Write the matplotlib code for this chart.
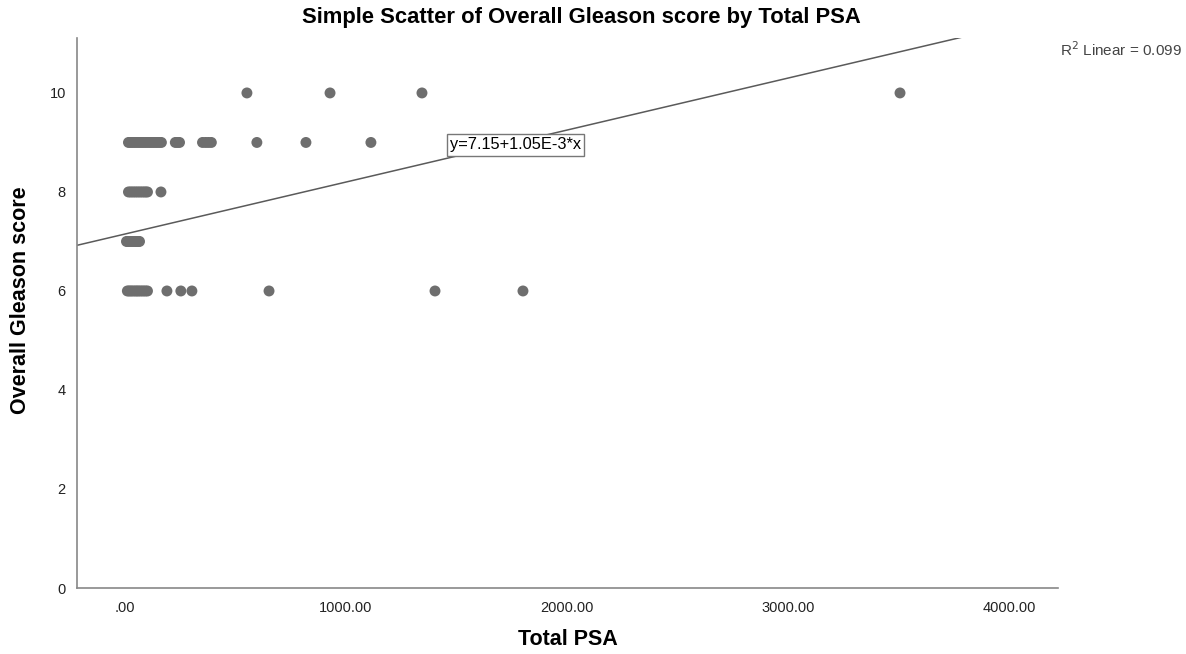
import numpy as np
import matplotlib.pyplot as plt

plt.rcParams['font.family'] = ['Liberation Sans', 'DejaVu Sans']

# Total PSA values, grouped by Gleason score
psa_6 = [11, 18, 25, 32, 40, 48, 55, 62, 70, 78, 86, 94, 102, 190, 253, 303, 652, 1403, 1801]
psa_7 = [7, 14, 22, 30, 38, 46, 54, 60, 66]
psa_8 = [16, 24, 32, 40, 48, 56, 64, 72, 80, 88, 95, 102, 163]
psa_9 = [16, 25, 35, 45, 55, 65, 75, 85, 95, 105, 115, 125, 135, 145, 155, 165,
         228, 238, 247, 351, 365, 378, 391, 597, 819, 1113]
psa_10 = [552, 928, 1344, 3507]

x = np.array(psa_6 + psa_7 + psa_8 + psa_9 + psa_10, dtype=float)
y = np.array([6] * len(psa_6) + [7] * len(psa_7) + [8] * len(psa_8)
             + [9] * len(psa_9) + [10] * len(psa_10), dtype=float)

intercept = 7.15
slope = 1.05e-3
x_ticks = [0, 1000, 2000, 3000, 4000]
x_tick_labels = ['.00', '1000.00', '2000.00', '3000.00', '4000.00']
y_ticks = [0, 2, 4, 6, 8, 10]

fig = plt.figure(figsize=(11.86, 6.54), dpi=100)
ax = fig.add_axes([0.0649, 0.1009, 0.8272, 0.841])

ax.scatter(x, y, s=62, color='#6e6e6e', edgecolors='none', zorder=3)

xmin, xmax = -217, 4222
ymin, ymax = 0, 11.11
xl = np.array([xmin, xmax])
ax.plot(xl, intercept + slope * xl, color='#5a5a5a', lw=1.1, zorder=2)

ax.set_xlim(xmin, xmax)
ax.set_ylim(ymin, ymax)
ax.set_xticks(x_ticks)
ax.set_xticklabels(x_tick_labels)
ax.set_yticks(y_ticks)
ax.tick_params(length=0, labelsize=10.5, colors='#222222', pad=8)
ax.tick_params(axis='x', pad=9)

for s in ['top', 'right']:
    ax.spines[s].set_visible(False)
for s in ['left', 'bottom']:
    ax.spines[s].set_color('#888888')
    ax.spines[s].set_linewidth(1.2)

ax.set_xlabel('Total PSA', fontsize=15.5, fontweight='bold', va='center')
ax.xaxis.set_label_coords(0.5, -0.094)
ax.set_ylabel('Overall Gleason score', fontsize=15.5, fontweight='bold', va='center')
ax.yaxis.set_label_coords(-0.058, 0.524)

fig.text(581 / 1186, 1 - 18 / 654, 'Simple Scatter of Overall Gleason score by Total PSA',
         ha='center', va='center', fontsize=15.8, fontweight='bold')

ax.text(1470, 8.95, 'y=7.15+1.05E-3*x', ha='left', va='center', fontsize=11.8,
        bbox=dict(boxstyle='square,pad=0.2', facecolor='white', edgecolor='#777777', lw=1),
        zorder=4)

fig.text(1182 / 1186, 1 - 50 / 654, 'R$^2$ Linear = 0.099', ha='right', va='center',
         fontsize=11, color='#444444')

fig.savefig('out.png', dpi=100)
